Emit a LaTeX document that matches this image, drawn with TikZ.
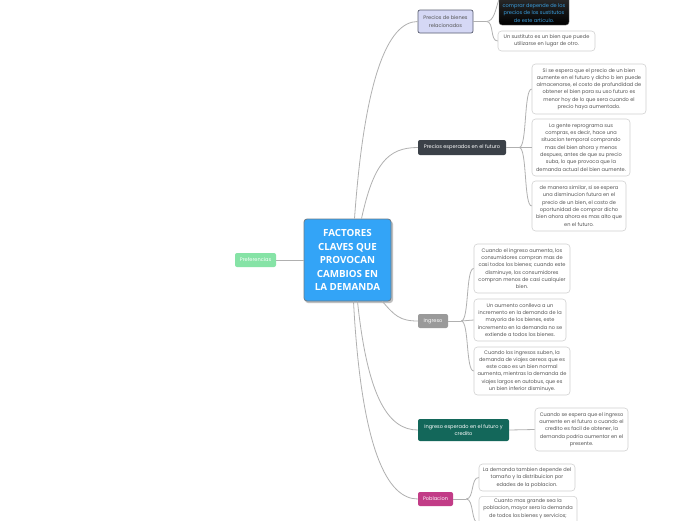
\documentclass[tikz,border=0pt]{standalone}
\usepackage{fontspec}
\setmainfont{Poppins}
\newfontfamily\titlefont{Open Sans}
\definecolor{cblue}{HTML}{33A4F7}
\definecolor{cblueb}{HTML}{6B7A86}
\definecolor{cgreen}{HTML}{86E3A6}
\definecolor{clav}{HTML}{D5D8F5}
\definecolor{clavb}{HTML}{5A5E70}
\definecolor{cdark}{HTML}{3B4148}
\definecolor{cgray}{HTML}{9A9A9A}
\definecolor{cteal}{HTML}{13675A}
\definecolor{cmag}{HTML}{C23C87}
\definecolor{ctxt}{HTML}{555555}
\definecolor{cline}{HTML}{B0B0B0}
\definecolor{cbtxt}{HTML}{3A9FE0}
\newcommand{\smallf}{\fontsize{5.05}{7.3}\selectfont}
\tikzset{
  sub/.style={draw=black!18, fill=white, rounded corners=3.5pt, text=ctxt, font=\smallf, align=center, inner sep=0.5pt, line width=0.6pt},
  branch/.style={rounded corners=2pt, text=white, font=\smallf, align=center, inner sep=0.5pt},
  conn/.style={draw=cline, line width=0.8pt},
}
\begin{document}
\begin{tikzpicture}[x=1pt,y=-1pt]
\clip (0,0) rectangle (696,520);
\fill[white] (0,0) rectangle (696,520);
% central
\fill[black!25, rounded corners=3pt] (305,221) rectangle (393,303);
\node[draw=cblueb, fill=cblue, rounded corners=3pt, line width=0.8pt, text=white, font={\titlefont\bfseries\fontsize{9.8}{13.5}\selectfont}, align=center, minimum width=87pt, minimum height=82pt, inner sep=0pt] (c) at (347.5,260) {FACTORES\\CLAVES QUE\\PROVOCAN\\CAMBIOS EN\\LA DEMANDA};
% branches
\node[branch, fill=cgreen, minimum width=41pt, minimum height=14pt] (pref) at (255.5,260) {Preferencias};
\node[branch, fill=clav, draw=clavb, line width=0.7pt, text=ctxt, minimum width=55pt, minimum height=23pt] (pbr) at (445.5,21.5) {Precios de bienes\\relacionados};
\node[branch, fill=cdark, minimum width=88pt, minimum height=15pt] (pef) at (462,147.5) {Precios esperados en el futuro};
\node[branch, fill=cgray, minimum width=30pt, minimum height=14pt] (ing) at (433,321) {Ingreso};
\node[branch, fill=cteal, minimum width=91pt, minimum height=22pt] (ief) at (463.5,430) {Ingreso esperado en el futuro y\\credito};
\node[branch, fill=cmag, minimum width=35pt, minimum height=14pt] (pob) at (435.5,499) {Poblacion};
% children of Precios de bienes relacionados
\node[top color=black!70, bottom color=black, draw=black!60, rounded corners=3pt, minimum width=70pt, minimum height=50pt, inner sep=0pt] (blk) at (534,0) {};
\node[text=cbtxt, font=\smallf, align=center, inner sep=0pt] (blktxt) at (534,13) {comprar depende de los\\precios de los sustitutos\\de este articulo.};
\node[sub, minimum width=97pt, minimum height=20pt] (s1) at (546.5,41) {Un sustituto es un bien que puede\\utilizarse en lugar de otro.};
% children of Precios esperados
\node[sub, minimum width=114pt, minimum height=50pt] (f1) at (589,89) {Si se espera que el precio de un bien\\aumente en el futuro y dicho b ien puede\\almacenarse, el costo de profundidad de\\obtener el bien  para su uso futuro es\\menor hoy  de lo que sera cuando el\\precio  haya aumentado.};
\node[sub, minimum width=98pt, minimum height=57pt] (f2) at (581,147.5) {La gente reprograma sus\\compras, es decir, hace una\\situacion temporal comprando\\mas del bien ahora y menos\\despues, antes de que su precio\\suba, lo que provoca que la\\demanda actual del bien aumente.};
\node[sub, minimum width=94pt, minimum height=50pt] (f3) at (579,206) {de manera similar, si se espera\\una disminucion futura en el\\precio de un bien, el costo de\\oportunidad de comprar dicho\\bien ahora ahora es mas alto que\\en el futuro.};
% children of Ingreso
\node[sub, minimum width=96pt, minimum height=49pt] (i1) at (522,268.5) {Cuando el ingreso aumenta, los\\consumidores compran mas de\\casi todos los bienes;  cuando este\\disminuye, los consumidores\\compran menos de casi cualquier\\bien.};
\node[sub, minimum width=92pt, minimum height=42pt] (i2) at (520,320) {Un aumento conlleva a un\\incremento en la demanda de la\\mayoria de los bienes, este\\incremento en la demanda no se\\extiende a todos los bienes.};
\node[sub, minimum width=96pt, minimum height=48pt] (i3) at (522,371) {Cuando los ingresos suben, la\\demanda de viajes aereos que es\\este caso es un bien normal\\aumenta, mientras la demanda de\\viajes largos en autobus, que es\\un bien inferior disminuye.};
% child of Ingreso esperado
\node[sub, minimum width=93pt, minimum height=43pt] (e1) at (581.5,429.5) {Cuando se espera que el ingreso\\aumente en el futuro o cuando el\\credito es facil de obtener, la\\demanda podria aumentar en el\\presente.};
% children of Poblacion
\node[sub, minimum width=96pt, minimum height=27pt] (p1) at (527,477.5) {La demanda tambien depende del\\tamaño y la distribuicion por\\edades de la poblacion.};
\node[sub, minimum width=98pt, anchor=north, inner ysep=2.5pt] (p2) at (528,496) {Cuanto mas grande sea la\\poblacion, mayor sera la demanda\\de todos los bienes y servicios;\\ \strut\\ \strut};
% main connectors
\draw[conn] (c.west) -- (pref.east);
\draw[conn] ([xshift=7pt]c.north) .. controls +(10,-140) and +(-30,0) .. (pbr.west);
\draw[conn] ([xshift=14pt]c.north) .. controls +(12,-55) and +(-30,0) .. (pef.west);
\draw[conn] ([xshift=-9pt]c.south east) .. controls +(12,14) and +(-18,0) .. (ing.west);
\draw[conn] ([xshift=10pt]c.south) .. controls +(10,95) and +(-30,0) .. (ief.west);
\draw[conn] ([xshift=6pt]c.south) .. controls +(8,150) and +(-30,0) .. (pob.west);
% sub connectors
\coordinate (k1) at ([xshift=13pt]pbr.east);
\draw[conn] (pbr.east) -- (k1);
\draw[conn] (k1) .. controls +(8,0) and +(-3,8) .. (blk.west);
\draw[conn] (k1) .. controls +(8,0) and +(-8,0) .. (s1.west);
\coordinate (k2) at ([xshift=13pt]pef.east);
\draw[conn] (pef.east) -- (k2);
\draw[conn] (k2) .. controls +(8,0) and +(-8,0) .. (f1.west);
\draw[conn] (k2) -- (f2.west);
\draw[conn] (k2) .. controls +(8,0) and +(-8,0) .. (f3.west);
\coordinate (k3) at ([xshift=13pt]ing.east);
\draw[conn] (ing.east) -- (k3);
\draw[conn] (k3) .. controls +(8,0) and +(-8,0) .. (i1.west);
\draw[conn] (k3) -- (i2.west);
\draw[conn] (k3) .. controls +(8,0) and +(-8,0) .. (i3.west);
\draw[conn] (ief.east) -- (e1.west);
\coordinate (k4) at ([xshift=13pt]pob.east);
\draw[conn] (pob.east) -- (k4);
\draw[conn] (k4) .. controls +(8,0) and +(-8,0) .. (p1.west);
\draw[conn] (k4) .. controls +(8,0) and +(-8,0) .. ([yshift=-7pt]p2.west);
\end{tikzpicture}
\end{document}
